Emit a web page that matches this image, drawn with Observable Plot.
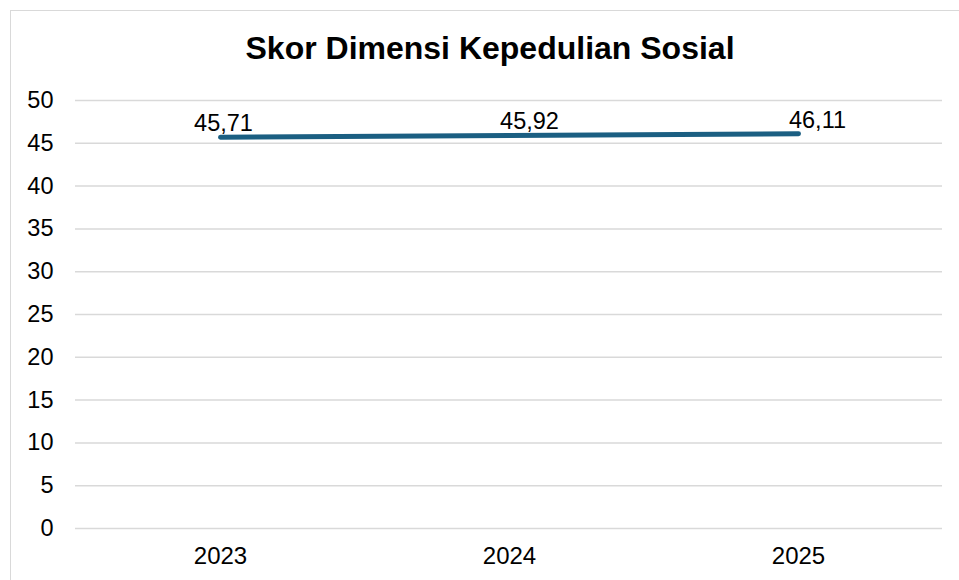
<!DOCTYPE html>
<html>
<head>
<meta charset="utf-8">
<script src="https://cdn.jsdelivr.net/npm/d3@7"></script>
<script src="https://cdn.jsdelivr.net/npm/@observablehq/plot@0.6"></script>
<style>
  html, body { margin: 0; padding: 0; background: #fff; overflow: hidden; width: 959px; height: 580px; }
  #wrap { position: relative; width: 959px; height: 580px; font-family: "Liberation Sans", Arial, sans-serif; }
  #frame { position: absolute; left: 10px; top: 10px; width: 1000px; height: 700px; border: 1.5px solid #d9d9d9; box-sizing: border-box; }
  #title { position: absolute; left: 0; top: 30px; width: 980px; text-align: center; font-weight: bold; font-size: 32px; line-height: 36px; color: #000; }
  #chart { position: absolute; left: 0; top: 0; }
</style>
</head>
<body>
<div id="wrap">
  <div id="frame"></div>
  <div id="title">Skor Dimensi Kepedulian Sosial</div>
  <div id="chart"></div>
</div>
<script>
const years = ["2023", "2024", "2025"];
const scores = [45.71, 45.92, 46.11];
const labels = ["45,71", "45,92", "46,11"];
const yTicks = [0, 5, 10, 15, 20, 25, 30, 35, 40, 45, 50];

const data = years.map((y, i) => ({year: y, score: scores[i], label: labels[i]}));
const labelShift = [3, 20, 19];

const plot = Plot.plot({
  width: 959,
  height: 580,
  marginLeft: 75,
  marginRight: 17,
  marginTop: 100,
  marginBottom: 52,
  style: {fontFamily: "'Liberation Sans', Arial, sans-serif", fontSize: "23.5px", color: "#000", background: "transparent"},
  x: {type: "point", domain: years, padding: 0.5, label: null},
  y: {domain: [0, 50], ticks: yTicks, label: null},
  marks: [
    Plot.gridY(yTicks, {stroke: "#d9d9d9", strokeOpacity: 1, strokeWidth: 1.5}),
    Plot.axisY({ticks: yTicks, tickSize: 0, tickPadding: 22, label: null, fontSize: 23.5}),
    Plot.axisX({tickSize: 0, tickPadding: 18, label: null, fontSize: 24}),
    Plot.line(data, {x: "year", y: "score", stroke: "#1b5f82", strokeWidth: 5, strokeLinecap: "round"}),
    ...data.map((d, i) => Plot.text([d], {x: "year", y: "score", text: "label", lineAnchor: "bottom", dy: -6, dx: labelShift[i], fontSize: 23.5, fill: "#000"}))
  ]
});
document.getElementById("chart").appendChild(plot);
</script>
</body>
</html>
